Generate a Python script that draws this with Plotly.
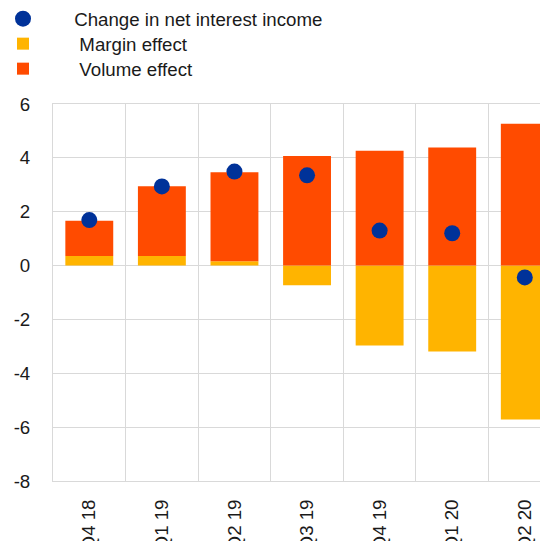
import plotly.graph_objects as go

categories = ["Q4 18", "Q1 19", "Q2 19", "Q3 19", "Q4 19", "Q1 20", "Q2 20"]
margin_effect = [0.36, 0.36, 0.16, -0.73, -2.97, -3.19, -5.72]
volume_effect = [1.30, 2.59, 3.31, 4.07, 4.26, 4.38, 5.27]
change_nii = [1.69, 2.94, 3.49, 3.35, 1.30, 1.20, -0.44]
y_ticks = [-8, -6, -4, -2, 0, 2, 4, 6]
y_tick_text = ["-8", "-6", "-4", "-2", "0", "2", "4", "6"]

FONT = "Liberation Sans, Arial, sans-serif"
GRID = "#d9d9d9"
PAD = "\u00a0" * 6

T, B, L = 96, 68, 45
PLOT_H = 541 - T - B
PLOT_W = 548 - L


def leg(yc):
    return dict(
        x=(-5 - L) / PLOT_W, y=1 + (T - yc) / PLOT_H, xref="paper", yref="paper",
        xanchor="left", yanchor="middle", itemwidth=30,
        font=dict(size=18.7), bgcolor="rgba(0,0,0,0)",
    )


fig = go.Figure()
fig.add_trace(go.Scatter(x=categories, y=change_nii, name=PAD + "Change in net interest income",
                         mode="markers", marker=dict(color="#003299", size=16),
                         legend="legend"))
fig.add_trace(go.Bar(x=categories, y=margin_effect, name=PAD + "\u00a0Margin effect",
                     marker=dict(color="#FFB400", line=dict(width=0)), legend="legend2"))
fig.add_trace(go.Bar(x=categories, y=volume_effect, name=PAD + "\u00a0Volume effect",
                     marker=dict(color="#FF4B00", line=dict(width=0)), legend="legend3"))

fig.update_layout(
    width=548, height=541,
    barmode="relative", bargap=0.34,
    plot_bgcolor="white", paper_bgcolor="white",
    margin=dict(l=L, r=0, t=T, b=B, autoexpand=False),
    font=dict(family=FONT, size=18.7, color="#1a1a1a"),
    legend=leg(11), legend2=leg(36), legend3=leg(61),
    showlegend=True,
)
fig.update_xaxes(
    type="category", range=[-0.5, 6.43], tickson="boundaries",
    showgrid=True, gridcolor=GRID, gridwidth=1,
    showline=True, mirror=True, linecolor=GRID, linewidth=1,
    tickangle=-90, ticks="", ticklabelstandoff=10,
    tickfont=dict(size=18.7),
)
fig.update_yaxes(
    range=[-8, 6], tickvals=y_ticks, ticktext=y_tick_text, showgrid=True,
    gridcolor=GRID, gridwidth=1, zeroline=True, zerolinecolor=GRID,
    zerolinewidth=1, ticks="", showline=True, linecolor=GRID, linewidth=1,
    mirror=False, tickfont=dict(size=18.7), ticklabelstandoff=18,
)

fig.write_html("out.html")
